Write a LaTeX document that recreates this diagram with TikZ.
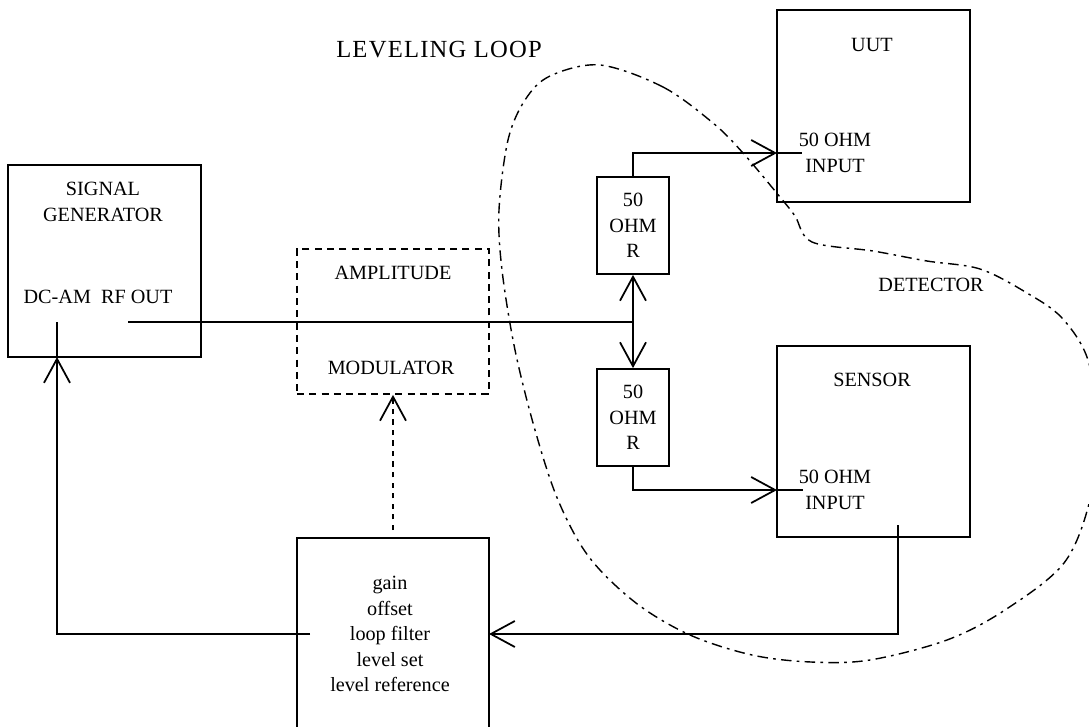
\documentclass[tikz,border=0pt]{standalone}
\usepackage{fontspec}
\setmainfont{Liberation Serif}
\usetikzlibrary{arrows.meta}
\newlength{\pxunit}
\setlength{\pxunit}{0.02cm}

\begin{document}
\begin{tikzpicture}[x=1\pxunit,y=-1\pxunit,line width=1pt,font=\fontsize{11.5}{14.5}\selectfont,
  >={Straight Barb[length=0.48cm,width=0.52cm]},
  blk/.style 2 args={rectangle,draw,minimum width=#1\pxunit,minimum height=#2\pxunit,inner sep=0pt},
  txt/.style={align=center,inner sep=0pt},
  modbox/.style={dash pattern=on 4pt off 3pt},
  ctlline/.style={dash pattern=on 3pt off 3pt},
  loopline/.style={line width=0.8pt,dash pattern=on 6pt off 3pt on 1.5pt off 3pt}]
\useasboundingbox (0,0) rectangle (1089,727);
\clip (0,0) rectangle (1089,727);
\node[txt,font=\fontsize{14}{16}\selectfont\addfontfeature{LetterSpace=5}] (title) at (439,50) {LEVELING LOOP};
\node[blk={193}{192}] (sg) at (104.5,261) {};
\node[txt] (sgname) at (103,202) {SIGNAL\\GENERATOR};
\node[txt] (sgport) at (98,297) {DC-AM\enspace RF OUT};
\node[blk={192}{145},modbox] (mod) at (393,321.5) {};
\node[txt] (modtop) at (393,273) {AMPLITUDE};
\node[txt] (modbot) at (391,368) {MODULATOR};
\node[blk={192}{240}] (ctrl) at (393,658) {};
\node[txt] (ctrltxt) at (390,634) {gain\\offset\\loop filter\\level set\\level reference};
\foreach \n/\y in {ra/225.5,rb/417.5} {
   \node[blk={72}{97},align=center] (\n) at (633,\y) {50\\OHM\\R};
}
\node[blk={193}{192}] (uut) at (873.5,106) {};
\node[txt] (uutname) at (872,45) {UUT};
\node[txt] (uutport) at (835,153) {50 OHM\\INPUT};
\node[blk={193}{191}] (sen) at (873.5,441.5) {};
\node[txt] (senname) at (872,380) {SENSOR};
\node[txt] (senport) at (835,490) {50 OHM\\INPUT};
\node[txt] (det) at (931,285) {DETECTOR};
\coordinate (rfout) at (128,322);
\coordinate (tee) at (633,322);
\coordinate (uutin) at (777,153);
\coordinate (senin) at (777,490);
\coordinate (senout) at (898,525);
\coordinate (ctrlin) at (489,634);
\coordinate (ctrlout) at (310,634);
\coordinate (sgin) at (57,357);
\coordinate (amin) at (57,322);
\coordinate (ctrltop) at (393,530);
\draw (rfout) -- (tee);
\draw[<->] (ra) -- (rb);
\draw[->] (ra) |- (uutin);
\draw (uutin) -- +(25,0);
\draw[->] (rb) |- (senin);
\draw (senin) -- +(26,0);
\draw[->] (senout) |- (ctrlin);
\draw[->] (ctrlout) -| (sgin);
\draw (sgin) -- (amin);
\draw[ctlline,->] (ctrltop) -- (mod);
\draw[loopline] plot[smooth cycle,tension=0.55] coordinates {
   (600,65) (663,87) (713,123) (743,153) (780,197) (795,216) (812,242)
   (873,251) (927,261) (980,269) (1027,293) (1062,318) (1088,360) (1098,430)
   (1090,500) (1064,563) (1005,610) (947,640) (870,660) (811,662) (752,655)
   (690,635) (636,603) (589,557) (558,500) (535,430) (515,350) (502,270)
   (499,210) (508,140) (525,100) (550,76)};
\end{tikzpicture}
\end{document}
